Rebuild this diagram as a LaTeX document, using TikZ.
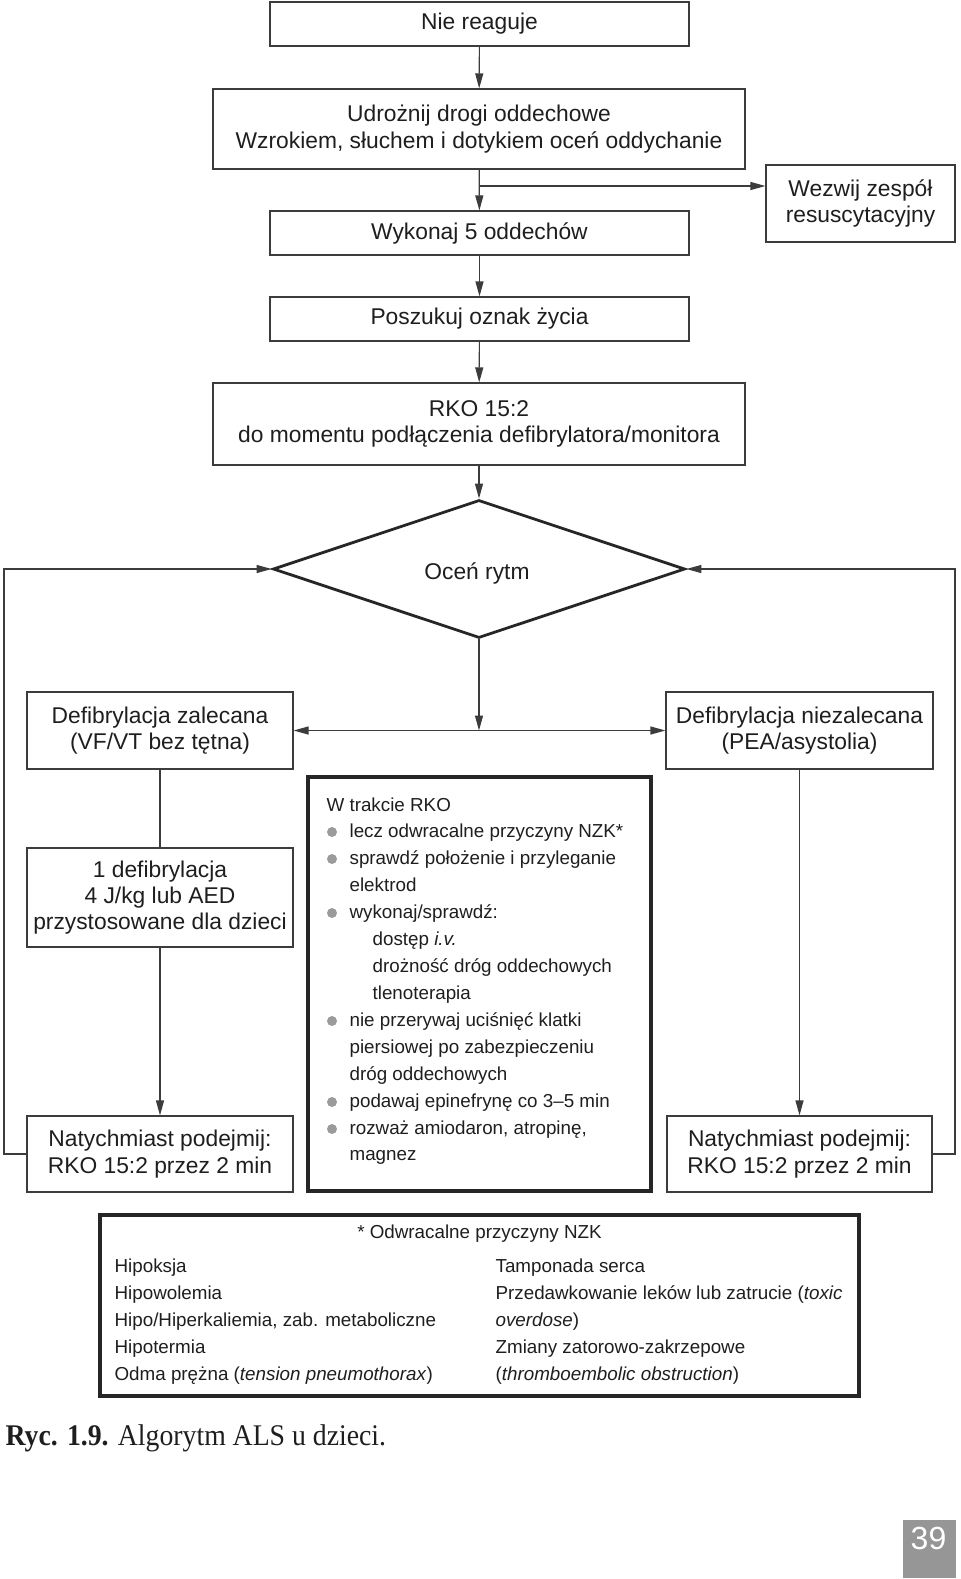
\documentclass[tikz,border=0pt]{standalone}
\usepackage{fontspec}
\setmainfont{Liberation Sans}
\newfontfamily\capfont[FakeStretch=0.925]{Liberation Serif}
\usetikzlibrary{arrows.meta,shapes.geometric}

\definecolor{linec}{RGB}{60,60,60}
\definecolor{bulc}{RGB}{155,155,155}
\definecolor{txtc}{RGB}{30,30,30}
\definecolor{pagec}{RGB}{150,150,150}

\newcommand\boxfont{\fontsize{11.4}{13.2}\selectfont}
\newcommand\listfont{\fontsize{9.4}{13.5}\selectfont}

\tikzset{every picture/.style={line width=0.6pt}}
\tikzset{
  stepbox/.style={draw=linec, inner sep=0pt, align=center, font=\boxfont, text=txtc},
  heavybox/.style={draw=black!85, line width=1.6pt, inner sep=0pt},
  arr/.style={draw=linec, -{Triangle[length=7.5pt,width=4pt]}},
  conn/.style={draw=linec},
  txt/.style={anchor=base west, inner sep=0pt, font=\listfont, text=txtc},
  dot/.style={circle, fill=bulc, inner sep=0pt, minimum size=5pt},
}

\begin{document}
\begin{tikzpicture}[x=0.5pt,y=0.5pt,yscale=-1]
\useasboundingbox (0,0) rectangle (960,1579);

%Boxes of the main path
\node[stepbox, minimum width=209.5pt, minimum height=22pt] (nie) at (479.5,24) {Nie reaguje};
\node[stepbox, minimum width=266pt, minimum height=40pt] (udr) at (479,129) {Udrożnij drogi oddechowe\\Wzrokiem, słuchem i dotykiem oceń oddychanie};
\node[stepbox, minimum width=94.5pt, minimum height=38.5pt] (wez) at (860.5,203.5) {Wezwij zespół\\resuscytacyjny};
\node[stepbox, minimum width=209.5pt, minimum height=22pt] (wyk) at (479.5,233) {Wykonaj 5 oddechów};
\node[stepbox, minimum width=209.5pt, minimum height=22pt] (posz) at (479.5,319) {Poszukuj oznak życia};
\node[stepbox, minimum width=266pt, minimum height=41pt] (rko) at (479,424) {RKO 15:2\\do momentu podłączenia defibrylatora/monitora};

%Shape: Diamond
\node[stepbox, shape=diamond, aspect=3, draw=black!85, line width=1.4pt, minimum width=206pt, minimum height=69pt] (ocen) at (479,569) {};
\node[inner sep=0pt, font=\boxfont, text=txtc] (ocenTxt) at (477,573) {Oceń rytm};

%Boxes of the two branches
\node[stepbox, minimum width=133pt, minimum height=38.5pt] (zal) at (160,730.5) {Defibrylacja zalecana\\(VF/VT bez tętna)};
\node[stepbox, minimum width=133.5pt, minimum height=38.5pt] (niez) at (799.5,730.5) {Defibrylacja niezalecana\\(PEA/asystolia)};
\node[stepbox, minimum width=133pt, minimum height=49.5pt] (defib) at (160,897.5) {1 defibrylacja\\4 J/kg lub AED\\przystosowane dla dzieci};
\node[stepbox, minimum width=133pt, minimum height=38pt] (natL) at (160,1154) {Natychmiast podejmij:\\RKO 15:2 przez 2 min};
\node[stepbox, minimum width=132.5pt, minimum height=38pt] (natR) at (799.5,1154) {Natychmiast podejmij:\\RKO 15:2 przez 2 min};

%Shape: Rectangle (during CPR)
\node[heavybox, minimum width=171.5pt, minimum height=207pt] (mid) at (479.5,984) {};
%Shape: Rectangle (reversible causes)
\node[heavybox, minimum width=379.5pt, minimum height=90.5pt] (nzk) at (479.5,1305.5) {};

%Connectors
\coordinate (br) at (479.5,186);
\coordinate (lpL) at (4,569);
\coordinate (lpR) at (955,569);
\draw[arr] (nie) -- (udr);
\draw[arr] (udr) -- (wyk);
\draw[arr] (br) -- (br -| wez.west);
\draw[arr] (wyk) -- (posz);
\draw[arr] (posz) -- (rko);
\draw[arr] (rko) -- (ocen.north);
\draw[arr] (ocen.south) -- (ocen.south |- zal.east);
\draw[arr] (ocen.south |- zal.east) -- (zal.east);
\draw[arr] (ocen.south |- niez.west) -- (niez.west);
\draw[conn] (zal) -- (defib);
\draw[arr] (defib) -- (natL);
\draw[arr] (niez) -- (natR);
\draw[arr] (natL.west) -| (lpL) -- (ocen.west);
\draw[arr] (natR.east) -| (lpR) -- (ocen.east);

% Text Node
\node[txt] (m1) at (326,811) {W trakcie RKO};
\node[txt] (m2) at (349,837) {lecz odwracalne przyczyny NZK*};
\node[txt] (m3) at (349,864) {sprawdź położenie i przyleganie};
\node[txt] (m4) at (349,891) {elektrod};
\node[txt] (m5) at (349,918) {wykonaj/sprawdź:};
\node[txt] (m6) at (372,945) {dostęp \textit{i.v.}};
\node[txt] (m7) at (372,972) {drożność dróg oddechowych};
\node[txt] (m8) at (372,999) {tlenoterapia};
\node[txt] (m9) at (349,1026) {nie przerywaj uciśnięć klatki};
\node[txt] (m10) at (349,1053) {piersiowej po zabezpieczeniu};
\node[txt] (m11) at (349,1080) {dróg oddechowych};
\node[txt] (m12) at (349,1107) {podawaj epinefrynę co 3–5 min};
\node[txt] (m13) at (349,1134) {rozważ amiodaron, atropinę,};
\node[txt] (m14) at (349,1160) {magnez};

% Bullets
\node[dot] (b1) at (332,832) {};
\node[dot] (b2) at (332,859) {};
\node[dot] (b3) at (332,913) {};
\node[dot] (b4) at (332,1021) {};
\node[dot] (b5) at (332,1102) {};
\node[dot] (b6) at (332,1129) {};

% Text Node
\node[txt, anchor=base] (zt) at (479.5,1238) {* Odwracalne przyczyny NZK};
\node[txt] (zl1) at (114,1272) {Hipoksja};
\node[txt] (zl2) at (114,1299) {Hipowolemia};
\node[txt] (zl3) at (114,1326) {Hipo/Hiperkaliemia, zab. metaboliczne};
\node[txt] (zl4) at (114,1353) {Hipotermia};
\node[txt] (zl5) at (114,1380) {Odma prężna (\textit{tension pneumothorax})};
\node[txt] (zr1) at (495,1272) {Tamponada serca};
\node[txt] (zr2) at (495,1299) {Przedawkowanie leków lub zatrucie (\textit{toxic}};
\node[txt] (zr3) at (495,1326) {\textit{overdose})};
\node[txt] (zr4) at (495,1353) {Zmiany zatorowo-zakrzepowe};
\node[txt] (zr5) at (495,1380) {(\textit{thromboembolic obstruction})};

% Caption
\node[anchor=base west, inner sep=0pt, font=\capfont\fontsize{15}{17}\selectfont, text=txtc] (cap) at (5,1445) {\textbf{Ryc. 1.9.} Algorytm ALS u dzieci.};

% Page number
\node[fill=pagec, anchor=north west, inner sep=0pt, minimum width=26.5pt, minimum height=29pt] (pg) at (902,1519) {};
\node[inner sep=0pt, text=white, font=\fontsize{16}{18}\selectfont] (pgnum) at (928.5,1538) {39};

\end{tikzpicture}
\end{document}
